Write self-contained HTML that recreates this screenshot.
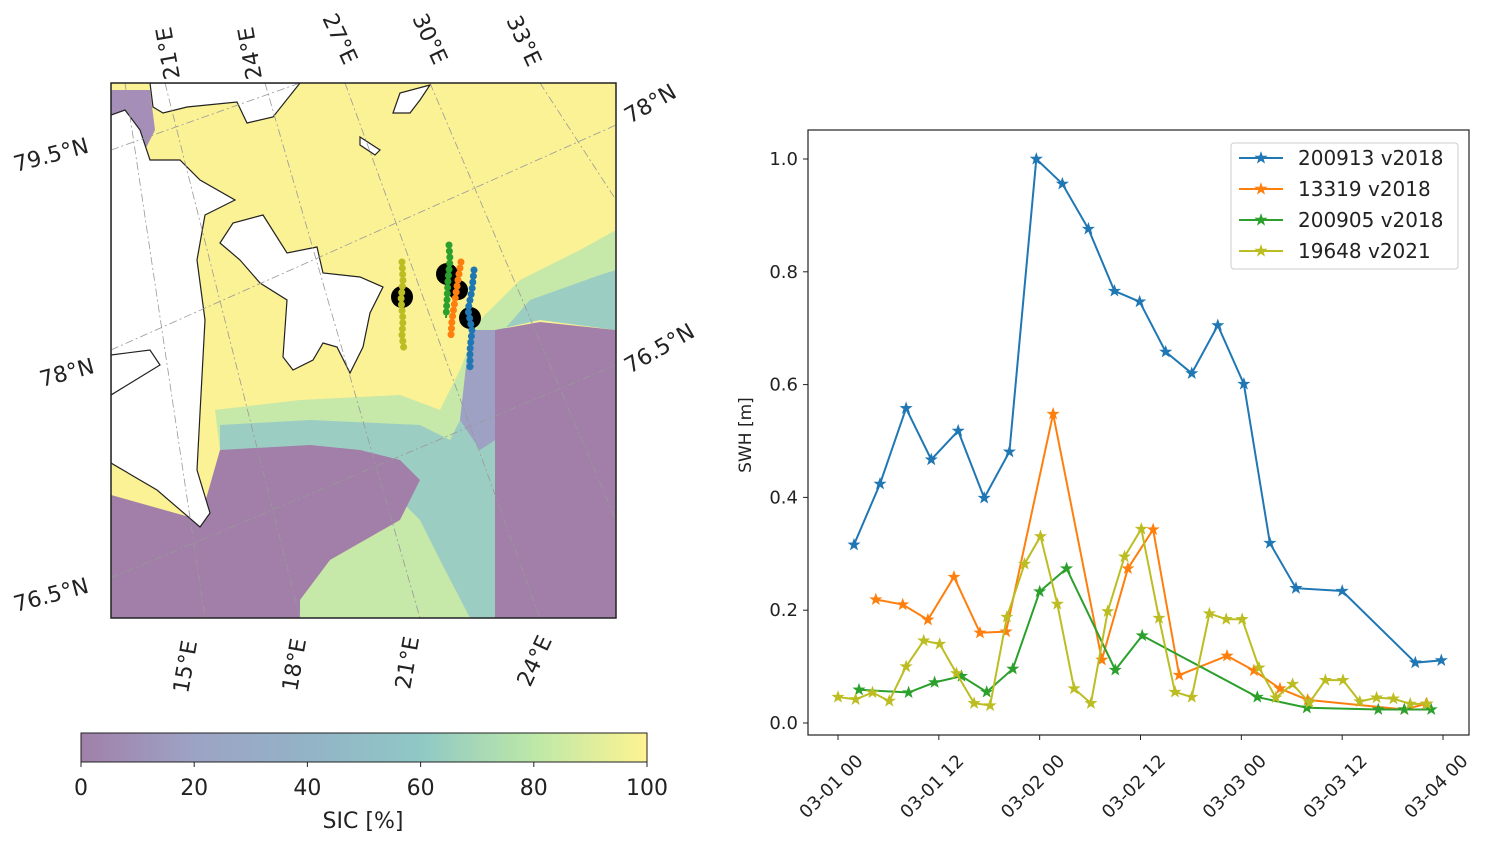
<!DOCTYPE html>
<html><head><meta charset="utf-8"><style>
body{margin:0;background:#fff;width:1493px;height:849px;overflow:hidden;font-family:"DejaVu Sans","Liberation Sans",sans-serif}
svg{position:absolute;left:0;top:0}
</style></head><body>
<svg width="1493" height="849" xmlns="http://www.w3.org/2000/svg">
<defs>
<linearGradient id="vir" x1="0" x2="1" y1="0" y2="0">
<stop offset="0" stop-color="#a180a9"/><stop offset="0.2" stop-color="#9da3c5"/><stop offset="0.4" stop-color="#93b3c6"/>
<stop offset="0.6" stop-color="#90c8c5"/><stop offset="0.8" stop-color="#bce8a8"/><stop offset="1" stop-color="#fef392"/>
</linearGradient>
<clipPath id="mapclip"><rect x="111" y="83" width="505" height="535"/></clipPath>
</defs>
<g id="map" clip-path="url(#mapclip)">
<rect x="111" y="83" width="505" height="535" fill="#fbf195"/>
<polygon fill="#c6e8a8" points="215,410 300,400 400,395 440,410 460,370 480,320 520,280 580,250 616,230 616,330 540,320 495,330 495,618 300,618 300,600 330,560 400,520 420,480 400,460 360,450 310,445 220,450"/>
<polygon fill="#9ccdc2" points="220,425 310,420 420,425 450,440 470,400 495,340 530,300 600,275 616,270 616,330 540,320 495,330 495,618 470,618 440,560 420,520 400,500 360,470 310,460 220,460"/>
<polygon fill="#a17fa8" points="111,495 200,520 220,450 310,445 360,450 400,460 420,480 400,520 330,560 300,600 300,618 111,618"/>
<polygon fill="#a17fa8" points="495,618 495,330 540,322 616,330 616,618"/>
<polygon fill="#9ea0c4" points="470,330 495,330 495,440 480,450 460,420"/>
<polygon fill="#a58fb8" points="111,90 150,90 155,130 140,160 111,150"/>
<polygon fill="#fff" stroke="#222" stroke-width="1.2" points="150,83 153,107 163,113 187,107 237,102 247,123 273,117 300,83"/>
<polygon fill="#fff" stroke="#222" stroke-width="1.2" points="111,115 125,110 140,130 150,160 180,160 200,180 235,200 205,215 197,260 205,320 200,413 197,470 210,513 200,527 157,490 111,463"/>
<polygon fill="#fff" stroke="#222" stroke-width="1.2" points="220,243 233,223 263,215 287,253 317,247 323,273 360,277 383,287 370,313 363,347 350,373 337,347 323,343 313,360 293,370 283,357 287,300 260,283 240,260"/>
<polygon fill="#fff" stroke="#222" stroke-width="1.2" points="393,113 400,93 430,85 420,100 410,113"/>
<polygon fill="#fff" stroke="#222" stroke-width="1.2" points="360,137 380,150 375,155 360,145"/>
<polygon fill="#fff" stroke="#222" stroke-width="1.2" points="111,355 150,350 160,365 111,395"/>
<g stroke="#999" stroke-width="0.8" stroke-dasharray="8,3,2,3" fill="none">
<line x1="125" y1="83" x2="205" y2="618"/><line x1="165" y1="83" x2="300" y2="618"/><line x1="265" y1="83" x2="420" y2="618"/><line x1="345" y1="83" x2="540" y2="618"/><line x1="430" y1="83" x2="616" y2="520"/><line x1="540" y1="83" x2="616" y2="200"/>
<line x1="111" y1="150" x2="300" y2="83"/><line x1="111" y1="350" x2="616" y2="125"/><line x1="111" y1="578" x2="616" y2="365"/>
</g>
<g>
<circle cx="402" cy="297" r="11" fill="#000"/>
<circle cx="447" cy="274" r="11" fill="#000"/>
<circle cx="458" cy="290" r="10" fill="#000"/>
<circle cx="470" cy="318" r="11" fill="#000"/>
<polyline points="402,262 403,280 401,300 403,320 402,335 404,350" stroke="#bcbd22" stroke-width="7" stroke-dasharray="0.1,6" fill="none" stroke-linecap="round"/>
<polyline points="449,245 450,260 448,280 447,300 446,318" stroke="#2ca02c" stroke-width="7" stroke-dasharray="0.1,6" fill="none" stroke-linecap="round"/>
<polyline points="461,262 458,280 455,300 452,320 451,335" stroke="#ff7f0e" stroke-width="7" stroke-dasharray="0.1,6" fill="none" stroke-linecap="round"/>
<polyline points="474,270 472,290 468,310 472,330 470,350 470,370" stroke="#1f77b4" stroke-width="7" stroke-dasharray="0.1,6" fill="none" stroke-linecap="round"/>
<polyline points="402,262 403,280 401,300 403,320 402,335 404,350" stroke="#bcbd22" stroke-width="2" fill="none"/>
<polyline points="449,245 450,260 448,280 447,300 446,318" stroke="#2ca02c" stroke-width="2" fill="none"/>
<polyline points="461,262 458,280 455,300 452,320 451,335" stroke="#ff7f0e" stroke-width="2" fill="none"/>
<polyline points="474,270 472,290 468,310 472,330 470,350 470,370" stroke="#1f77b4" stroke-width="2" fill="none"/>
</g>
</g>
<rect x="111" y="83" width="505" height="535" fill="none" stroke="#222" stroke-width="1.5"/>
<g font-size="22" fill="#222">
<text transform="translate(180,78) rotate(-100)">21°E</text>
<text transform="translate(262,78) rotate(-100)">24°E</text>
<text transform="translate(322,18) rotate(65)">27°E</text>
<text transform="translate(412,18) rotate(65)">30°E</text>
<text transform="translate(506,20) rotate(65)">33°E</text>
<text transform="translate(16,172) rotate(-15)">79.5°N</text>
<text transform="translate(42,387) rotate(-15)">78°N</text>
<text transform="translate(16,612) rotate(-15)">76.5°N</text>
<text transform="translate(630,124) rotate(-30)">78°N</text>
<text transform="translate(630,374) rotate(-30)">76.5°N</text>
<text transform="translate(188,694) rotate(-80)">15°E</text>
<text transform="translate(297,692) rotate(-80)">18°E</text>
<text transform="translate(410,690) rotate(-80)">21°E</text>
<text transform="translate(530,688) rotate(-65)">24°E</text>
</g>
<g>
<rect x="81" y="733" width="566" height="29" fill="url(#vir)" stroke="#222" stroke-width="1"/>
<g font-size="22" fill="#222" text-anchor="middle" id="cbt"></g>
<text x="363" y="828" font-size="22" text-anchor="middle" fill="#222">SIC [%]</text>
</g>
<g id="chart"></g>
</svg>
<script>
const NS="http://www.w3.org/2000/svg";
const cbTicks=[0,20,40,60,80,100];
const yTicks=[0,0.2,0.4,0.6,0.8,1.0];
const yTickLabels=["0.0","0.2","0.4","0.6","0.8","1.0"];
const xTickHours=[0,12,24,36,48,60,72];
const xTickLabels=["03-01 00","03-01 12","03-02 00","03-02 12","03-03 00","03-03 12","03-04 00"];
const seriesNames=["200913 v2018","13319 v2018","200905 v2018","19648 v2021"];
const seriesColors=["#1f77b4","#ff7f0e","#2ca02c","#bcbd22"];
const h200913=[1.9,5.0,8.1,11.1,14.3,17.4,20.4,23.6,26.7,29.8,32.9,35.9,39.0,42.1,45.2,48.3,51.4,54.5,60.0,68.7,71.8];
const v200913=[0.316,0.424,0.558,0.467,0.518,0.399,0.481,1.0,0.956,0.876,0.766,0.747,0.658,0.620,0.705,0.601,0.319,0.239,0.234,0.107,0.111];
const h13319=[4.5,7.7,10.7,13.8,16.9,20.0,25.6,31.4,34.5,37.5,40.6,46.3,49.5,52.6,55.9,67.4,70.0];
const v13319=[0.219,0.210,0.183,0.259,0.160,0.162,0.548,0.112,0.274,0.343,0.085,0.119,0.093,0.061,0.041,0.024,0.034];
const h200905=[2.5,8.4,11.5,14.7,17.7,20.8,24.0,27.2,33.0,36.2,49.9,55.8,64.3,67.4,70.6];
const v200905=[0.059,0.054,0.072,0.083,0.055,0.096,0.233,0.274,0.094,0.155,0.046,0.027,0.024,0.024,0.024];
const h19648=[0,2.1,4.1,6.1,8.1,10.2,12.1,14.1,16.2,18.1,20.1,22.2,24.1,26.1,28.1,30.1,32.1,34.1,36.1,38.2,40.1,42.1,44.2,46.2,48.1,50.1,52.1,54.1,56.1,58.0,60.1,62.1,64.1,66.1,68.1,70.1];
const v19648=[0.046,0.042,0.054,0.039,0.100,0.146,0.140,0.088,0.035,0.031,0.188,0.282,0.331,0.211,0.061,0.035,0.198,0.295,0.344,0.186,0.055,0.046,0.194,0.184,0.184,0.098,0.045,0.069,0.036,0.076,0.076,0.038,0.045,0.043,0.034,0.034];
const seriesH=[h200913,h13319,h200905,h19648];
const seriesV=[v200913,v13319,v200905,v19648];
const seriesKeys=["200913","13319","200905","19648"];

function mk(tag,attrs,parent){const e=document.createElementNS(NS,tag);for(const k in attrs)e.setAttribute(k,attrs[k]);parent.appendChild(e);return e;}
const cbx=v=>81+v/100*566;
const xs=h=>838+h*(1443-838)/72;
const ys=v=>723-564*v;
const cbg=document.getElementById('cbt');
cbTicks.forEach(t=>{
  const l=mk('line',{x1:cbx(t),x2:cbx(t),y1:762,y2:767,stroke:'#222'},cbg);
  
  
  const tx=mk('text',{x:cbx(t),y:795},cbg);tx.textContent=t;
  
  
});
const g=document.getElementById('chart');
const frame=mk('rect',{x:808,y:130,width:661,height:605,fill:'none',stroke:'#222','stroke-width':1.2},g);


yTicks.forEach((t,i)=>{
  const l=mk('line',{x1:803,x2:808,y1:ys(t),y2:ys(t),stroke:'#222'},g);
  
  
  const tx=mk('text',{x:798,y:ys(t)+6,'font-size':18,'text-anchor':'end',fill:'#222'},g);tx.textContent=yTickLabels[i];
  
  
});
xTickHours.forEach((t,i)=>{
  const l=mk('line',{x1:xs(t),x2:xs(t),y1:735,y2:740,stroke:'#222'},g);
  
  
  const tx=mk('text',{transform:`translate(${xs(t)+26},${762}) rotate(-45)`,'font-size':18,'text-anchor':'end',fill:'#222'},g);tx.textContent=xTickLabels[i];
  
  
});
const yl=mk('text',{transform:'translate(751,435) rotate(-90)','font-size':17,'text-anchor':'middle',fill:'#222'},g);yl.textContent='SWH [m]';


function star(x,y,r,col,parent){
  let p=[];for(let k=0;k<10;k++){const a=-Math.PI/2+k*Math.PI/5;const rr=k%2?r*0.4:r;p.push((x+rr*Math.cos(a)).toFixed(1)+','+(y+rr*Math.sin(a)).toFixed(1));}
  return mk('polygon',{points:p.join(' '),fill:col,stroke:col,'stroke-width':0.6},parent);
}
seriesH.forEach((H,si)=>{
  const V=seriesV[si];const col=seriesColors[si];
  const sg=mk('g',{},g);
  
  
  const pl=mk('polyline',{points:H.map((h,i)=>xs(h)+','+ys(V[i])).join(' '),fill:'none',stroke:col,'stroke-width':2},sg);
  
  
  H.forEach((h,i)=>{const s=star(xs(h),ys(V[i]),6,col,sg);
    
    });
});
const lg=mk('g',{},g);


const lb=mk('rect',{x:1231,y:143,width:227,height:126,rx:3,fill:'#fff',stroke:'#ccc'},lg);


seriesNames.forEach((n,i)=>{
  const y=158+i*31;const col=seriesColors[i];
  const l=mk('line',{x1:1239,x2:1283,y1:y,y2:y,stroke:col,'stroke-width':2},lg);
  
  
  const s=star(1261,y,6,col,lg);
  
  
  const t=mk('text',{x:1298,y:y+7,'font-size':20,fill:'#222'},lg);t.textContent=n;
  
  
});
</script>
</body></html>
